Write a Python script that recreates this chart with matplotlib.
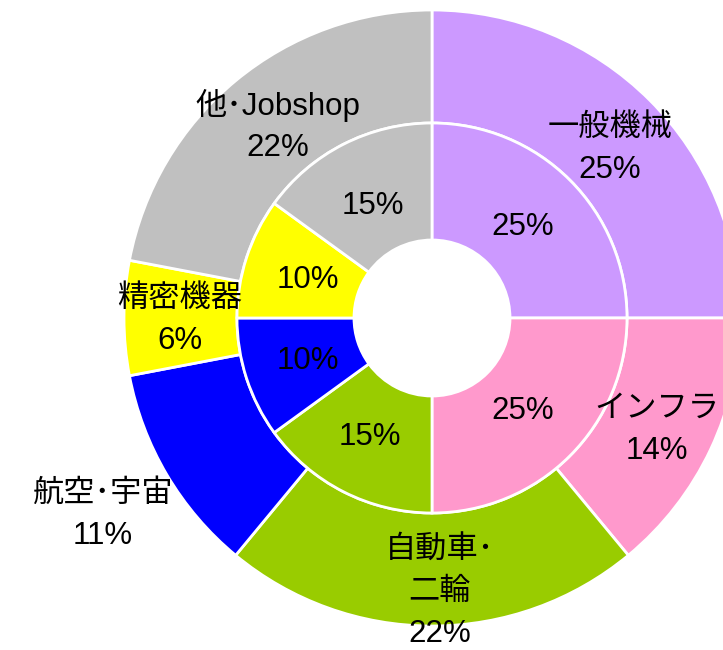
import matplotlib.pyplot as plt

plt.rcParams['font.family'] = ['Liberation Sans', 'Noto Sans CJK JP', 'DejaVu Sans']

# outer ring: industries
outer_labels = ['一般機械', 'インフラ', '自動車･\n二輪', '航空･宇宙', '精密機器', '他･Jobshop']
outer_values = [25, 14, 22, 11, 6, 22]
# inner ring
inner_values = [25, 25, 15, 10, 10, 15]
colors = ['#CC99FF', '#FF99CC', '#99CC00', '#0000FF', '#FFFF00', '#C0C0C0']

fig = plt.figure(figsize=(7.23, 6.5), dpi=100)
ax = fig.add_axes([0, 0, 1, 1])

cx, cy = 432, 650 - 318
r_out, r_mid, r_in = 308, 195, 78

ax.pie(outer_values, colors=colors, startangle=90, counterclock=False,
       radius=r_out, center=(cx, cy),
       wedgeprops=dict(width=r_out - r_mid, edgecolor='white', linewidth=2))
ax.pie(inner_values, colors=colors, startangle=90, counterclock=False,
       radius=r_mid, center=(cx, cy),
       wedgeprops=dict(width=r_mid - r_in, edgecolor='white', linewidth=2))

fs = 22.5
# label positions in pixels (x, y from top)
outer_pos = [(610, 149), (657, 430), (440, 592), (103, 515), (180, 320), (278, 126)]
for lab, v, (x, y) in zip(outer_labels, outer_values, outer_pos):
    ax.text(x, 650 - y, lab + '\n' + str(v) + '%', ha='center', va='center',
            fontsize=fs, linespacing=1.5)

inner_pos = [(523, 227), (523, 411), (370, 437), (308, 361), (308, 280), (373, 206)]
for v, (x, y) in zip(inner_values, inner_pos):
    ax.text(x, 650 - y, str(v) + '%', ha='center', va='center', fontsize=fs)

ax.set_xlim(0, 723)
ax.set_ylim(0, 650)
ax.set_aspect('equal')
ax.axis('off')

plt.savefig('out.png', dpi=100)
